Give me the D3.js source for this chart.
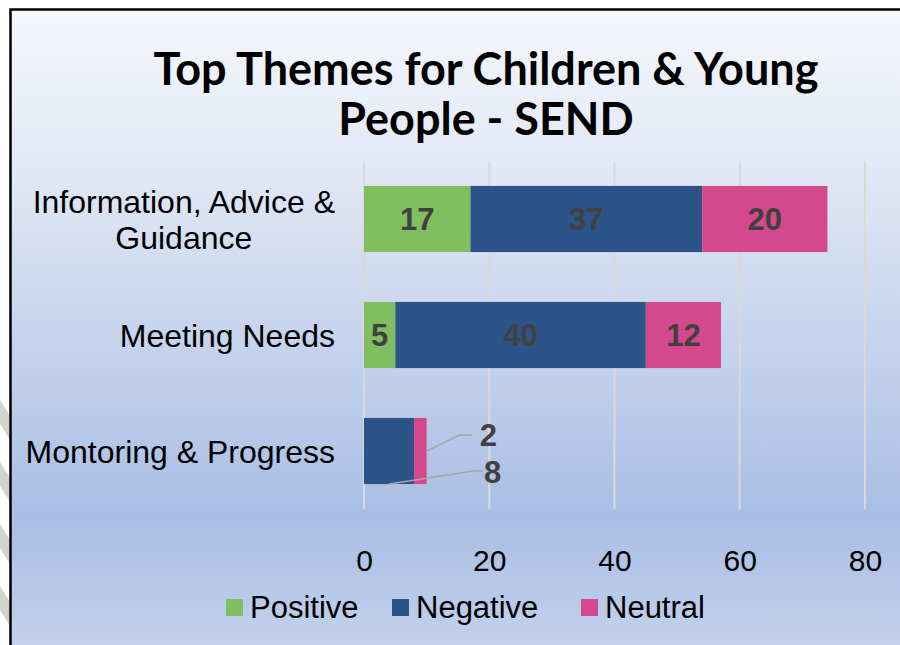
<!DOCTYPE html>
<html><head><meta charset="utf-8">
<script src="https://cdn.jsdelivr.net/npm/d3@7/dist/d3.min.js"></script>
<style>html,body{margin:0;padding:0;background:#fff;}svg{display:block;}</style>
</head><body>
<script>
const categories = ["Information, Advice & Guidance", "Meeting Needs", "Montoring & Progress"];
const categoryLines = [["Information, Advice &", "Guidance"], ["Meeting Needs"], ["Montoring & Progress"]];
const seriesNames = ["Positive", "Negative", "Neutral"];
const positive = [17, 5, 0];
const negative = [37, 40, 8];
const neutral = [20, 12, 2];
const xTicks = [0, 20, 40, 60, 80];
const colors = ["#80bf60", "#2c5488", "#d4498d"];

const W = 900, H = 645;
const svg = d3.select("body").append("svg").attr("width", W).attr("height", H);
const defs = svg.append("defs");
const grad = defs.append("linearGradient").attr("id", "bg").attr("x1", 0).attr("y1", 0).attr("x2", 0).attr("y2", 1);
[[0, "#f5f7fc"], [0.25, "#e2e8f5"], [0.5, "#c8d5ee"], [0.8, "#a9bee4"], [1, "#c2d1ec"]].forEach(([o, c]) =>
  grad.append("stop").attr("offset", o).attr("stop-color", c));

// left decorative stripes
const stripes = svg.append("g");
for (let y0 = 400; y0 < 700; y0 += 62) {
  stripes.append("polygon")
    .attr("points", `0,${y0} 10,${y0 + 16} 10,${y0 + 40} 0,${y0 + 24}`)
    .attr("fill", "#d3d3cf");
}

svg.append("rect").attr("x", 10).attr("y", 9).attr("width", W - 10).attr("height", H - 9).attr("fill", "url(#bg)");
svg.append("path").attr("d", `M10.5,${H} V9.5 H${W}`).attr("fill", "none").attr("stroke", "#000").attr("stroke-width", 2.5);

// title
const title = svg.append("g").attr("font-family", "Lato, 'Open Sans', sans-serif").attr("font-weight", "bold")
  .attr("fill", "#000").attr("text-anchor", "middle");
const t1 = title.append("text").attr("x", 486).attr("y", 85).attr("font-size", 40).text("Top Themes for Children & Young");
const w1 = t1.node().getComputedTextLength();
const fs = 40 * 665 / w1;
t1.attr("font-size", fs);
title.append("text").attr("x", 486).attr("y", 135).attr("font-size", fs).text("People - SEND");

// scales
const x = d3.scaleLinear().domain([0, 80]).range([364, 865]);
const y = d3.scaleBand().domain(categories).range([161, 509]).paddingInner(0.43).paddingOuter(0.215);

// gridlines
svg.append("g").selectAll("line").data(xTicks).join("line")
  .attr("x1", d => x(d)).attr("x2", d => x(d)).attr("y1", 161).attr("y2", 509)
  .attr("stroke", "#d9d9d9").attr("stroke-width", 2);

// axis (labels only)
const axis = svg.append("g").attr("transform", "translate(0,509)")
  .call(d3.axisBottom(x).tickValues(xTicks).tickSize(0).tickPadding(41));
axis.select(".domain").remove();
axis.selectAll("text").attr("font-family", "Arial, 'Liberation Sans', sans-serif").attr("font-size", 30).attr("fill", "#000");

// stacks
const rows = categories.map((c, i) => ({ cat: c, Positive: positive[i], Negative: negative[i], Neutral: neutral[i] }));
const stack = d3.stack().keys(seriesNames)(rows);
const bars = svg.append("g");
stack.forEach((s, si) => {
  bars.append("g").selectAll("rect").data(s).join("rect")
    .attr("x", d => x(d[0])).attr("width", d => x(d[1]) - x(d[0]))
    .attr("y", d => y(d.data.cat)).attr("height", y.bandwidth())
    .attr("fill", colors[si]);
});

// data labels
const lab = svg.append("g").attr("font-family", "Arial, 'Liberation Sans', sans-serif").attr("font-weight", "bold")
  .attr("font-size", 31).attr("fill", "#404040");
stack.forEach((s, si) => {
  s.forEach((d, i) => {
    const v = d[1] - d[0];
    if (v <= 0) return;
    const cy = y(d.data.cat) + y.bandwidth() / 2;
    if (i < 2) {
      lab.append("text").attr("x", x((d[0] + d[1]) / 2)).attr("y", cy).attr("dy", "0.36em")
        .attr("text-anchor", "middle").text(v);
    }
  });
});

// leader-line labels for the small third row
const r3 = categories[2];
const top3 = y(r3), bot3 = y(r3) + y.bandwidth(), mid3 = top3 + y.bandwidth() / 2;
const negS = stack[1][2], neuS = stack[2][2];
const leader = svg.append("g").attr("fill", "none").attr("stroke", "#a6a6a6").attr("stroke-width", 1.5);
// Neutral (2)
const nx = x(neuS[1]);
leader.append("polyline").attr("points", `${nx},${mid3} ${nx + 33},${mid3 - 16} ${nx + 45},${mid3 - 16}`);
lab.append("text").attr("x", nx + 53).attr("y", mid3 - 16).attr("dy", "0.36em").text(neuS[1] - neuS[0]);
// Negative (8)
const gx = x((negS[0] + negS[1]) / 2);
leader.append("polyline").attr("points", `${gx},${bot3} ${gx + 84},${bot3 - 13} ${gx + 94},${bot3 - 13}`);
lab.append("text").attr("x", gx + 95).attr("y", bot3 - 12).attr("dy", "0.36em").text(negS[1] - negS[0]);

// category labels
const cl = svg.append("g").attr("font-family", "Arial, 'Liberation Sans', sans-serif").attr("font-size", 32).attr("fill", "#000");
categories.forEach((c, i) => {
  const lines = categoryLines[i];
  const cy = y(c) + y.bandwidth() / 2;
  const g = cl.append("g");
  const lh = 36;
  const texts = lines.map((l, j) => g.append("text").attr("y", cy + (j - (lines.length - 1) / 2) * lh).attr("dy", "0.36em").text(l));
  const maxW = d3.max(texts, t => t.node().getComputedTextLength());
  const cx = 335 - maxW / 2;
  texts.forEach(t => t.attr("x", cx).attr("text-anchor", "middle"));
});

// legend
const leg = svg.append("g").attr("font-family", "Arial, 'Liberation Sans', sans-serif").attr("font-size", 31);
const legX = [226, 392, 581];
seriesNames.forEach((n, i) => {
  leg.append("rect").attr("x", legX[i]).attr("y", 599).attr("width", 17).attr("height", 17).attr("fill", colors[i]);
  leg.append("text").attr("x", legX[i] + 24).attr("y", 607).attr("dy", "0.36em").attr("fill", "#000").text(n);
});
</script>
</body></html>
